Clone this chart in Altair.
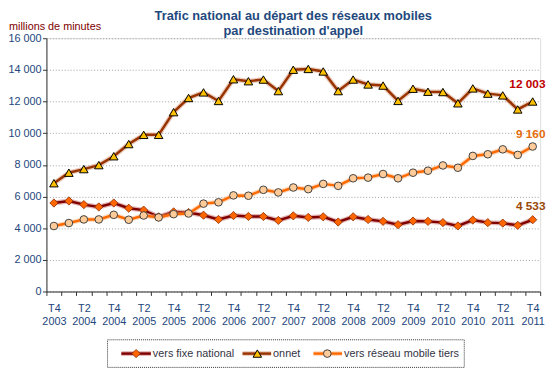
import json
import altair as alt
import pandas as pd

quarters = [
    "T4 2003",
    "T1 2004", "T2 2004", "T3 2004", "T4 2004",
    "T1 2005", "T2 2005", "T3 2005", "T4 2005",
    "T1 2006", "T2 2006", "T3 2006", "T4 2006",
    "T1 2007", "T2 2007", "T3 2007", "T4 2007",
    "T1 2008", "T2 2008", "T3 2008", "T4 2008",
    "T1 2009", "T2 2009", "T3 2009", "T4 2009",
    "T1 2010", "T2 2010", "T3 2010", "T4 2010",
    "T1 2011", "T2 2011", "T3 2011", "T4 2011",
]
fixe_national = [5590, 5720, 5490, 5340, 5590, 5260, 5140, 4720, 5030, 4990, 4820,
                 4550, 4800, 4740, 4740, 4490, 4780, 4680, 4720, 4390, 4720, 4550,
                 4430, 4220, 4450, 4430, 4350, 4140, 4510, 4350, 4320, 4180, 4533]
onnet = [6840, 7505, 7733, 7983, 8545, 9314, 9896, 9896, 11330, 12225, 12578,
         12037, 13410, 13285, 13389, 12661, 14012, 14060, 13900, 12660, 13390, 13080,
         13010, 12040, 12810, 12620, 12600, 11890, 12830, 12500, 12390, 11500, 12003]
mobile_tiers = [4137, 4324, 4553, 4553, 4844, 4532, 4802, 4678, 4886, 4927, 5551,
                5634, 6071, 6050, 6424, 6258, 6570, 6466, 6798, 6674, 7152, 7193,
                7422, 7152, 7505, 7630, 7963, 7817, 8565, 8669, 8981, 8628, 9160]
series_names = ["vers fixe national", "onnet", "vers réseau mobile tiers"]
end_labels = ["4 533", "12 003", "9 160"]
y_ticks = [0, 2000, 4000, 6000, 8000, 10000, 12000, 14000, 16000]
title_lines = ["Trafic national au départ des réseaux mobiles", "par destination d'appel"]
y_title = "millions de minutes"

rows = []
for name, vals in zip(series_names, [fixe_national, onnet, mobile_tiers]):
    for i, v in enumerate(vals):
        rows.append({"i": i, "serie": name, "value": v, "trim": quarters[i]})
df = pd.DataFrame(rows)
n = len(quarters)

W, H = 501, 257
FONT = "Liberation Sans"
style = {
    "vers fixe national": dict(line="#800000", halo="#C06060", fill="#FF6600", stroke="#8A2A00",
                               shape="diamond", size=70, sw=0.8, lab="#984807", dy=-14),
    "onnet": dict(line="#993300", halo="#D09070", fill="#FFC000", stroke="#000000",
                  shape="triangle-up", size=75, sw=1.0, lab="#C00000", dy=-18),
    "vers réseau mobile tiers": dict(line="#FF6A00", halo="#FFB27A", fill="#FFCC99", stroke="#404040",
                                     shape="circle", size=60, sw=1.0, lab="#E46C0A", dy=-13),
}

label_arr = json.dumps([q.split(" ") for q in quarters])
x_values = [k - 0.5 for k in range(n + 1)] + list(range(0, n, 2))
x_enc = alt.X(
    "i:Q",
    scale=alt.Scale(domain=[-0.5, n - 0.5], nice=False, zero=False),
    axis=alt.Axis(
        values=x_values,
        labelExpr=f"datum.value % 2 == 0 ? {label_arr}[datum.value] : ''",
        labelOverlap=False, labelFlush=False, labelBound=False,
        grid=False, tickSize=4,
        tickOpacity={"condition": {"test": "datum.value % 1 != 0", "value": 1}, "value": 0},
        tickColor="#333333", domainColor="#333333",
        labelColor="#23467C", labelFontSize=11, labelFont=FONT,
        labelPadding=7, labelLineHeight=13.5,
    ),
    title=None,
)
y_enc = alt.Y(
    "value:Q",
    scale=alt.Scale(domain=[0, 16000], nice=False),
    axis=alt.Axis(
        values=y_ticks,
        labelExpr="replace(format(datum.value, ','), ',', ' ')",
        grid=True, gridDash=[1, 2], gridColor="#A0A0A0", gridWidth=1,
        tickSize=4, tickColor="#333333", domainColor="#333333",
        labelColor="#23467C", labelFontSize=11, labelFont=FONT, labelPadding=1.5,
        title=None,
    ),
)

layers = []
for name, lab in zip(series_names, end_labels):
    s = style[name]
    d = alt.Chart(df).transform_filter(alt.datum.serie == name)
    layers.append(d.mark_line(color=s["halo"], strokeWidth=5, opacity=0.45).encode(x=x_enc, y=y_enc))
    layers.append(d.mark_line(color=s["line"], strokeWidth=2.5).encode(x=x_enc, y=y_enc))
    layers.append(d.mark_point(shape=s["shape"], filled=True, fill=s["fill"], stroke=s["stroke"],
                               strokeWidth=s["sw"], size=s["size"], opacity=1).encode(x=x_enc, y=y_enc))
    layers.append(d.transform_filter(alt.datum.i == n - 1).mark_text(
        text=lab, align="right", baseline="middle", dx=13, dy=s["dy"], color=s["lab"],
        fontWeight="bold", fontSize=12, font=FONT).encode(x=x_enc, y=y_enc))

one = alt.Chart(pd.DataFrame({"k": [0]}))

# titles
layers.append(one.mark_text(text=title_lines[0], align="center", baseline="middle", fontSize=13,
                            font=FONT, fontWeight="bold", color="#1F497D").encode(
    x=alt.value(W / 2), y=alt.value(-22)))
layers.append(one.mark_text(text=title_lines[1], align="center", baseline="middle", fontSize=13,
                            font=FONT, fontWeight="bold", color="#1F497D").encode(
    x=alt.value(W / 2), y=alt.value(-7)))
layers.append(one.mark_text(text=y_title, align="left", baseline="middle", fontSize=11,
                            font=FONT, color="#800000").encode(
    x=alt.value(-38), y=alt.value(-11)))

# legend
layers.append(one.mark_rect(fill="white", stroke="#333333", strokeDash=[1, 1], strokeWidth=1).encode(
    x=alt.value(62), x2=alt.value(424), y=alt.value(306), y2=alt.value(334)))
leg_pos = [(76, 106, 91, 108), (199, 228, 214, 230), (271, 300, 285, 302)]
for name, (x1, x2, xm, xt) in zip(series_names, leg_pos):
    s = style[name]
    layers.append(one.mark_rule(color=s["halo"], strokeWidth=5, opacity=0.45).encode(
        x=alt.value(x1), x2=alt.value(x2), y=alt.value(320)))
    layers.append(one.mark_rule(color=s["line"], strokeWidth=2.5).encode(
        x=alt.value(x1), x2=alt.value(x2), y=alt.value(320)))
    layers.append(one.mark_point(shape=s["shape"], filled=True, fill=s["fill"], stroke=s["stroke"],
                                 strokeWidth=s["sw"], size=s["size"], opacity=1).encode(
        x=alt.value(xm), y=alt.value(320)))
    layers.append(one.mark_text(text=name, align="left", baseline="middle", fontSize=11, font=FONT,
                                color="#333344").encode(x=alt.value(xt), y=alt.value(320)))

chart = alt.layer(*layers).properties(
    width=W, height=H,
    padding={"left": 39, "top": 28, "right": 11, "bottom": 78},
    autosize=alt.AutoSizeParams(type="none"),
).configure_view(strokeWidth=0).configure(background="white")

chart.save("out.html", embed_options={"renderer": "svg", "actions": False})
